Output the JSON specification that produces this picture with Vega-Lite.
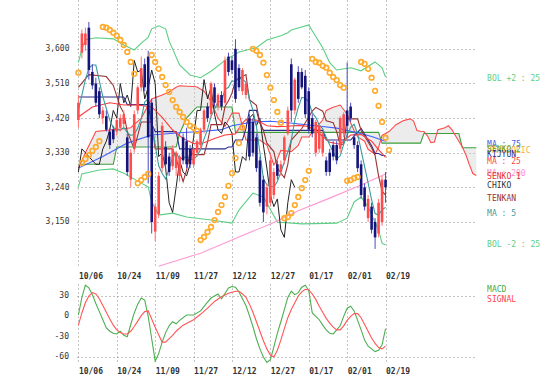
{
"$schema": "https://vega.github.io/schema/vega-lite/v6.json",
"background": "white",
"padding": {"left": 0, "top": 0, "right": 0, "bottom": 0},
"spacing": 1,
"config": {
  "view": {"stroke": null},
  "font": "DejaVu Sans Mono",
  "axis": {"labelFont": "DejaVu Sans Mono", "labelFontSize": 8, "labelColor": "#333333", "domain": false, "ticks": false, "gridColor": "#888888", "gridDash": [1, 3], "gridWidth": 1, "labelOverlap": false, "labelFlush": false, "labelSeparation": 0}
},
"datasets": {
  "candles": [
    {"i":0,"o":3415,"h":3480,"l":3395,"c":3460},{"i":1,"o":3590,"h":3650,"l":3575,"c":3640},{"i":2,"o":3610,"h":3655,"l":3595,"c":3640},{"i":3,"o":3655,"h":3670,"l":3520,"c":3545},{"i":4,"o":3540,"h":3560,"l":3495,"c":3505},{"i":5,"o":3510,"h":3525,"l":3450,"c":3460},{"i":6,"o":3490,"h":3500,"l":3420,"c":3430},{"i":7,"o":3420,"h":3450,"l":3405,"c":3440},{"i":8,"o":3425,"h":3440,"l":3385,"c":3390},{"i":9,"o":3385,"h":3395,"l":3340,"c":3350},
    {"i":10,"o":3390,"h":3400,"l":3355,"c":3365},{"i":11,"o":3385,"h":3420,"l":3375,"c":3415},{"i":12,"o":3395,"h":3430,"l":3385,"c":3420},{"i":13,"o":3405,"h":3440,"l":3395,"c":3430},{"i":14,"o":3370,"h":3380,"l":3270,"c":3280},{"i":15,"o":3260,"h":3340,"l":3240,"c":3330},{"i":16,"o":3340,"h":3440,"l":3330,"c":3430},{"i":17,"o":3440,"h":3505,"l":3430,"c":3500},{"i":18,"o":3500,"h":3580,"l":3490,"c":3550},{"i":19,"o":3560,"h":3575,"l":3490,"c":3500},
    {"i":20,"o":3580,"h":3595,"l":3250,"c":3370},{"i":21,"o":3460,"h":3470,"l":3120,"c":3150},{"i":22,"o":3125,"h":3200,"l":3100,"c":3190},{"i":23,"o":3170,"h":3280,"l":3160,"c":3270},{"i":24,"o":3290,"h":3410,"l":3280,"c":3400},{"i":25,"o":3345,"h":3360,"l":3290,"c":3300},{"i":26,"o":3320,"h":3330,"l":3270,"c":3280},{"i":27,"o":3295,"h":3350,"l":3285,"c":3340},{"i":28,"o":3290,"h":3335,"l":3270,"c":3330},{"i":29,"o":3270,"h":3325,"l":3255,"c":3320},
    {"i":30,"o":3370,"h":3380,"l":3300,"c":3310},{"i":31,"o":3360,"h":3395,"l":3290,"c":3300},{"i":32,"o":3340,"h":3350,"l":3290,"c":3300},{"i":33,"o":3300,"h":3345,"l":3290,"c":3340},{"i":34,"o":3330,"h":3365,"l":3320,"c":3360},{"i":35,"o":3350,"h":3395,"l":3340,"c":3390},{"i":36,"o":3390,"h":3445,"l":3380,"c":3440},{"i":37,"o":3450,"h":3460,"l":3410,"c":3420},{"i":38,"o":3430,"h":3515,"l":3420,"c":3510},{"i":39,"o":3500,"h":3510,"l":3450,"c":3460},
    {"i":40,"o":3450,"h":3485,"l":3440,"c":3480},{"i":41,"o":3480,"h":3490,"l":3440,"c":3450},{"i":42,"o":3460,"h":3580,"l":3455,"c":3570},{"i":43,"o":3580,"h":3590,"l":3530,"c":3540},{"i":44,"o":3570,"h":3580,"l":3535,"c":3545},{"i":45,"o":3600,"h":3625,"l":3460,"c":3470},{"i":46,"o":3550,"h":3560,"l":3490,"c":3500},{"i":47,"o":3490,"h":3550,"l":3480,"c":3545},{"i":48,"o":3480,"h":3515,"l":3470,"c":3510},{"i":49,"o":3420,"h":3430,"l":3310,"c":3320},
    {"i":50,"o":3410,"h":3420,"l":3320,"c":3330},{"i":51,"o":3370,"h":3380,"l":3280,"c":3290},{"i":52,"o":3310,"h":3320,"l":3190,"c":3200},{"i":53,"o":3260,"h":3270,"l":3150,"c":3175},{"i":54,"o":3190,"h":3250,"l":3170,"c":3240},{"i":55,"o":3200,"h":3320,"l":3190,"c":3310},{"i":56,"o":3220,"h":3290,"l":3210,"c":3280},{"i":57,"o":3300,"h":3310,"l":3260,"c":3270},{"i":58,"o":3280,"h":3310,"l":3270,"c":3300},{"i":59,"o":3310,"h":3375,"l":3300,"c":3370},
    {"i":60,"o":3380,"h":3450,"l":3375,"c":3440},{"i":61,"o":3560,"h":3575,"l":3410,"c":3440},{"i":62,"o":3440,"h":3525,"l":3430,"c":3520},{"i":63,"o":3540,"h":3555,"l":3460,"c":3470},{"i":64,"o":3540,"h":3550,"l":3495,"c":3500},{"i":65,"o":3530,"h":3545,"l":3420,"c":3430},{"i":66,"o":3490,"h":3500,"l":3380,"c":3390},{"i":67,"o":3420,"h":3430,"l":3370,"c":3380},{"i":68,"o":3330,"h":3415,"l":3320,"c":3410},{"i":69,"o":3340,"h":3405,"l":3330,"c":3400},
    {"i":70,"o":3330,"h":3385,"l":3320,"c":3380},{"i":71,"o":3310,"h":3320,"l":3270,"c":3280},{"i":72,"o":3330,"h":3340,"l":3270,"c":3280},{"i":73,"o":3350,"h":3360,"l":3310,"c":3320},{"i":74,"o":3350,"h":3360,"l":3300,"c":3310},{"i":75,"o":3340,"h":3425,"l":3330,"c":3420},{"i":76,"o":3380,"h":3435,"l":3370,"c":3430},{"i":77,"o":3440,"h":3565,"l":3370,"c":3400},{"i":78,"o":3450,"h":3460,"l":3410,"c":3420},{"i":79,"o":3370,"h":3380,"l":3340,"c":3350},
    {"i":80,"o":3350,"h":3360,"l":3280,"c":3290},{"i":81,"o":3300,"h":3310,"l":3210,"c":3220},{"i":82,"o":3240,"h":3250,"l":3180,"c":3190},{"i":83,"o":3160,"h":3220,"l":3150,"c":3210},{"i":84,"o":3190,"h":3200,"l":3120,"c":3130},{"i":85,"o":3150,"h":3160,"l":3080,"c":3110},{"i":86,"o":3120,"h":3210,"l":3110,"c":3200},{"i":87,"o":3150,"h":3270,"l":3140,"c":3260},{"i":88,"o":3260,"h":3280,"l":3200,"c":3240}
  ],
  "ichi": [
    {"i":0,"s1":3290,"s2":3300},{"i":2,"s1":3330,"s2":3300},{"i":5,"s1":3385,"s2":3300},{"i":10,"s1":3390,"s2":3300},{"i":11,"s1":3390,"s2":3345},{"i":15,"s1":3395,"s2":3345},{"i":18,"s1":3420,"s2":3345},{"i":21,"s1":3470,"s2":3345},{"i":24,"s1":3480,"s2":3345},{"i":26,"s1":3488,"s2":3345},{"i":28,"s1":3500,"s2":3345},{"i":29,"s1":3504,"s2":3380},{"i":31,"s1":3503,"s2":3420},{"i":33,"s1":3502,"s2":3440},{"i":34,"s1":3501,"s2":3449},{"i":36,"s1":3490,"s2":3449},{"i":38,"s1":3463,"s2":3449},{"i":40,"s1":3420,"s2":3449},{"i":42,"s1":3398,"s2":3449},{"i":44,"s1":3433,"s2":3449},{"i":45,"s1":3433,"s2":3383},{"i":46,"s1":3433,"s2":3383},{"i":48,"s1":3363,"s2":3383},{"i":52,"s1":3363,"s2":3383},{"i":54,"s1":3350,"s2":3383},{"i":56,"s1":3298,"s2":3383},{"i":57,"s1":3313,"s2":3383},{"i":58,"s1":3336,"s2":3383},{"i":61,"s1":3333,"s2":3383},{"i":63,"s1":3349,"s2":3383},{"i":64,"s1":3371,"s2":3383},{"i":66,"s1":3371,"s2":3383},{"i":68,"s1":3395,"s2":3383},{"i":69,"s1":3405,"s2":3383},{"i":70,"s1":3415,"s2":3383},{"i":71,"s1":3440,"s2":3383},{"i":73,"s1":3448,"s2":3383},{"i":75,"s1":3454,"s2":3383},{"i":77,"s1":3430,"s2":3383},{"i":78,"s1":3408,"s2":3383},{"i":79,"s1":3388,"s2":3383},{"i":80,"s1":3371,"s2":3383},{"i":82,"s1":3360,"s2":3383},{"i":83,"s1":3339,"s2":3383},{"i":85,"s1":3326,"s2":3383},{"i":86,"s1":3344,"s2":3383},{"i":87,"s1":3375,"s2":3355},{"i":88,"s1":3380,"s2":3355},{"i":89,"s1":3385,"s2":3355},{"i":91,"s1":3403,"s2":3355},{"i":93,"s1":3413,"s2":3355},{"i":95,"s1":3418,"s2":3355},{"i":96,"s1":3413,"s2":3355},{"i":97,"s1":3388,"s2":3355},{"i":98,"s1":3386,"s2":3355},{"i":99,"s1":3385,"s2":3380},{"i":100,"s1":3374,"s2":3380},{"i":101,"s1":3356,"s2":3380},{"i":102,"s1":3358,"s2":3380},{"i":103,"s1":3390,"s2":3380},{"i":105,"s1":3395,"s2":3380},{"i":106,"s1":3400,"s2":3380},{"i":107,"s1":3390,"s2":3380},{"i":108,"s1":3375,"s2":3380},{"i":109,"s1":3360,"s2":3380},{"i":110,"s1":3345,"s2":3343},{"i":111,"s1":3325,"s2":3343},{"i":112,"s1":3299,"s2":3343},{"i":113,"s1":3276,"s2":3343},{"i":114,"s1":3271,"s2":3343}
  ],
  "bolU": [{"i":0,"v":3564},{"i":1,"v":3600},{"i":2,"v":3624},{"i":5,"v":3629},{"i":10,"v":3626},{"i":13,"v":3610},{"i":16,"v":3597},{"i":18,"v":3615},{"i":20,"v":3630},{"i":21,"v":3652},{"i":23,"v":3660},{"i":25,"v":3652},{"i":26,"v":3620},{"i":29,"v":3558},{"i":32,"v":3532},{"i":35,"v":3525},{"i":38,"v":3542},{"i":42,"v":3570},{"i":46,"v":3592},{"i":51,"v":3603},{"i":54,"v":3623},{"i":58,"v":3634},{"i":60,"v":3642},{"i":61,"v":3649},{"i":66,"v":3662},{"i":67,"v":3647},{"i":70,"v":3603},{"i":72,"v":3564},{"i":74,"v":3545},{"i":78,"v":3551},{"i":81,"v":3543},{"i":85,"v":3566},{"i":87,"v":3551},{"i":88,"v":3527}],
  "bolL": [{"i":0,"v":3241},{"i":1,"v":3275},{"i":6,"v":3285},{"i":10,"v":3288},{"i":13,"v":3277},{"i":18,"v":3251},{"i":20,"v":3241},{"i":21,"v":3202},{"i":23,"v":3168},{"i":27,"v":3173},{"i":31,"v":3163},{"i":38,"v":3155},{"i":44,"v":3147},{"i":46,"v":3181},{"i":50,"v":3225},{"i":53,"v":3215},{"i":57,"v":3150},{"i":64,"v":3145},{"i":74,"v":3147},{"i":77,"v":3160},{"i":79,"v":3202},{"i":81,"v":3215},{"i":83,"v":3189},{"i":86,"v":3129},{"i":87,"v":3095},{"i":88,"v":3090}],
  "ma200": [{"i":23,"v":3035},{"i":35,"v":3069},{"i":46,"v":3111},{"i":55,"v":3145},{"i":63,"v":3179},{"i":72,"v":3212},{"i":81,"v":3246},{"i":88,"v":3275}],
  "ma75": [{"i":0,"v":3290},{"i":7,"v":3320},{"i":14,"v":3355},{"i":21,"v":3376},{"i":29,"v":3382},{"i":35,"v":3385},{"i":41,"v":3390},{"i":44,"v":3400},{"i":50,"v":3410},{"i":55,"v":3412},{"i":60,"v":3408},{"i":66,"v":3402},{"i":70,"v":3398},{"i":74,"v":3394},{"i":80,"v":3382},{"i":84,"v":3372},{"i":88,"v":3360}],
  "ma25": [{"i":0,"v":3423},{"i":4,"v":3449},{"i":9,"v":3460},{"i":13,"v":3454},{"i":17,"v":3454},{"i":21,"v":3449},{"i":24,"v":3422},{"i":27,"v":3389},{"i":30,"v":3367},{"i":33,"v":3354},{"i":36,"v":3356},{"i":39,"v":3367},{"i":42,"v":3376},{"i":45,"v":3379},{"i":46,"v":3393},{"i":47,"v":3407},{"i":48,"v":3416},{"i":51,"v":3415},{"i":54,"v":3400},{"i":57,"v":3398},{"i":60,"v":3399},{"i":63,"v":3401},{"i":66,"v":3398},{"i":69,"v":3380},{"i":72,"v":3357},{"i":75,"v":3352},{"i":78,"v":3376},{"i":81,"v":3377},{"i":84,"v":3360},{"i":86,"v":3338},{"i":88,"v":3318}],
  "ma5": [{"i":0,"v":3440},{"i":1,"v":3480},{"i":2,"v":3520},{"i":3,"v":3550},{"i":4,"v":3558},{"i":5,"v":3558},{"i":6,"v":3516},{"i":7,"v":3476},{"i":8,"v":3445},{"i":9,"v":3414},{"i":10,"v":3395},{"i":11,"v":3392},{"i":12,"v":3388},{"i":13,"v":3396},{"i":14,"v":3382},{"i":15,"v":3375},{"i":16,"v":3378},{"i":17,"v":3394},{"i":18,"v":3418},{"i":19,"v":3462},{"i":20,"v":3470},{"i":21,"v":3412},{"i":22,"v":3350},{"i":23,"v":3296},{"i":24,"v":3276},{"i":25,"v":3262},{"i":26,"v":3288},{"i":27,"v":3318},{"i":28,"v":3330},{"i":29,"v":3314},{"i":30,"v":3316},{"i":31,"v":3320},{"i":32,"v":3312},{"i":33,"v":3314},{"i":34,"v":3322},{"i":35,"v":3338},{"i":36,"v":3366},{"i":37,"v":3390},{"i":38,"v":3424},{"i":39,"v":3444},{"i":40,"v":3462},{"i":41,"v":3464},{"i":42,"v":3494},{"i":43,"v":3500},{"i":44,"v":3517},{"i":45,"v":3515},{"i":46,"v":3525},{"i":47,"v":3520},{"i":48,"v":3514},{"i":49,"v":3469},{"i":50,"v":3441},{"i":51,"v":3399},{"i":52,"v":3330},{"i":53,"v":3263},{"i":54,"v":3247},{"i":55,"v":3243},{"i":56,"v":3241},{"i":57,"v":3255},{"i":58,"v":3280},{"i":59,"v":3306},{"i":60,"v":3332},{"i":61,"v":3364},{"i":62,"v":3414},{"i":63,"v":3448},{"i":64,"v":3474},{"i":65,"v":3472},{"i":66,"v":3462},{"i":67,"v":3434},{"i":68,"v":3422},{"i":69,"v":3402},{"i":70,"v":3392},{"i":71,"v":3370},{"i":72,"v":3350},{"i":73,"v":3332},{"i":74,"v":3314},{"i":75,"v":3322},{"i":76,"v":3352},{"i":77,"v":3376},{"i":78,"v":3396},{"i":79,"v":3404},{"i":80,"v":3378},{"i":81,"v":3336},{"i":82,"v":3294},{"i":83,"v":3252},{"i":84,"v":3208},{"i":85,"v":3172},{"i":86,"v":3168},{"i":87,"v":3182},{"i":88,"v":3188}],
  "tenkan": [{"i":0,"v":3500},{"i":3,"v":3533},{"i":8,"v":3528},{"i":10,"v":3505},{"i":12,"v":3450},{"i":13,"v":3433},{"i":14,"v":3385},{"i":16,"v":3340},{"i":18,"v":3410},{"i":21,"v":3410},{"i":22,"v":3340},{"i":27,"v":3340},{"i":28,"v":3315},{"i":30,"v":3255},{"i":31,"v":3285},{"i":32,"v":3333},{"i":33,"v":3325},{"i":36,"v":3325},{"i":37,"v":3358},{"i":38,"v":3403},{"i":41,"v":3403},{"i":42,"v":3450},{"i":43,"v":3465},{"i":44,"v":3485},{"i":45,"v":3518},{"i":46,"v":3523},{"i":48,"v":3533},{"i":49,"v":3468},{"i":51,"v":3453},{"i":52,"v":3408},{"i":53,"v":3388},{"i":54,"v":3355},{"i":56,"v":3333},{"i":57,"v":3290},{"i":59,"v":3265},{"i":60,"v":3300},{"i":61,"v":3363},{"i":62,"v":3373},{"i":64,"v":3393},{"i":66,"v":3423},{"i":67,"v":3438},{"i":68,"v":3448},{"i":70,"v":3438},{"i":71,"v":3413},{"i":73,"v":3408},{"i":74,"v":3385},{"i":75,"v":3350},{"i":76,"v":3353},{"i":77,"v":3418},{"i":80,"v":3418},{"i":81,"v":3388},{"i":82,"v":3373},{"i":84,"v":3343},{"i":85,"v":3323},{"i":86,"v":3270},{"i":87,"v":3230},{"i":88,"v":3220}],
  "kijun": [{"i":0,"v":3475},{"i":13,"v":3475},{"i":14,"v":3455},{"i":20,"v":3455},{"i":21,"v":3405},{"i":22,"v":3385},{"i":28,"v":3385},{"i":29,"v":3340},{"i":42,"v":3340},{"i":43,"v":3345},{"i":44,"v":3345},{"i":45,"v":3363},{"i":47,"v":3363},{"i":48,"v":3393},{"i":49,"v":3440},{"i":51,"v":3440},{"i":52,"v":3408},{"i":53,"v":3388},{"i":70,"v":3388},{"i":71,"v":3363},{"i":78,"v":3363},{"i":79,"v":3373},{"i":80,"v":3383},{"i":81,"v":3393},{"i":82,"v":3378},{"i":83,"v":3363},{"i":84,"v":3348},{"i":85,"v":3328},{"i":86,"v":3328},{"i":87,"v":3323},{"i":88,"v":3323}],
  "chiko": [{"i":0,"v":3280},{"i":1,"v":3340},{"i":2,"v":3330},{"i":3,"v":3320},{"i":4,"v":3310},{"i":5,"v":3300},{"i":6,"v":3300},{"i":7,"v":3340},{"i":8,"v":3360},{"i":9,"v":3390},{"i":10,"v":3440},{"i":11,"v":3420},{"i":12,"v":3510},{"i":13,"v":3460},{"i":14,"v":3480},{"i":15,"v":3450},{"i":16,"v":3570},{"i":17,"v":3540},{"i":18,"v":3545},{"i":19,"v":3470},{"i":20,"v":3500},{"i":21,"v":3545},{"i":22,"v":3510},{"i":23,"v":3320},{"i":24,"v":3330},{"i":25,"v":3290},{"i":26,"v":3200},{"i":27,"v":3175},{"i":28,"v":3240},{"i":29,"v":3310},{"i":30,"v":3280},{"i":31,"v":3270},{"i":32,"v":3300},{"i":33,"v":3370},{"i":34,"v":3440},{"i":35,"v":3440},{"i":36,"v":3520},{"i":37,"v":3470},{"i":38,"v":3500},{"i":39,"v":3430},{"i":40,"v":3390},{"i":41,"v":3380},{"i":42,"v":3410},{"i":43,"v":3400},{"i":44,"v":3380},{"i":45,"v":3280},{"i":46,"v":3280},{"i":47,"v":3320},{"i":48,"v":3310},{"i":49,"v":3420},{"i":50,"v":3430},{"i":51,"v":3400},{"i":52,"v":3420},{"i":53,"v":3350},{"i":54,"v":3290},{"i":55,"v":3220},{"i":56,"v":3190},{"i":57,"v":3210},{"i":58,"v":3130},{"i":59,"v":3110},{"i":60,"v":3200},{"i":61,"v":3260},{"i":62,"v":3240}],
  "sar": [{"i":0,"v":3538},{"i":1,"v":3303},{"i":2,"v":3314},{"i":3,"v":3324},{"i":4,"v":3335},{"i":5,"v":3345},{"i":6,"v":3360},{"i":7,"v":3657},{"i":8,"v":3655},{"i":9,"v":3649},{"i":10,"v":3642},{"i":11,"v":3634},{"i":12,"v":3623},{"i":13,"v":3610},{"i":14,"v":3592},{"i":15,"v":3566},{"i":16,"v":3535},{"i":17,"v":3251},{"i":18,"v":3259},{"i":19,"v":3267},{"i":20,"v":3275},{"i":21,"v":3584},{"i":22,"v":3566},{"i":23,"v":3548},{"i":24,"v":3527},{"i":25,"v":3506},{"i":26,"v":3488},{"i":27,"v":3467},{"i":28,"v":3449},{"i":29,"v":3436},{"i":30,"v":3423},{"i":31,"v":3410},{"i":32,"v":3400},{"i":33,"v":3395},{"i":34,"v":3387},{"i":35,"v":3103},{"i":36,"v":3111},{"i":37,"v":3124},{"i":38,"v":3137},{"i":39,"v":3155},{"i":40,"v":3176},{"i":41,"v":3194},{"i":42,"v":3215},{"i":43,"v":3244},{"i":44,"v":3277},{"i":45,"v":3316},{"i":46,"v":3355},{"i":47,"v":3395},{"i":50,"v":3600},{"i":51,"v":3595},{"i":52,"v":3584},{"i":53,"v":3564},{"i":54,"v":3532},{"i":55,"v":3499},{"i":56,"v":3467},{"i":57,"v":3436},{"i":58,"v":3408},{"i":59,"v":3160},{"i":60,"v":3163},{"i":61,"v":3173},{"i":62,"v":3194},{"i":63,"v":3215},{"i":64,"v":3238},{"i":65,"v":3259},{"i":66,"v":3283},{"i":67,"v":3574},{"i":68,"v":3566},{"i":69,"v":3564},{"i":70,"v":3556},{"i":71,"v":3551},{"i":72,"v":3538},{"i":73,"v":3527},{"i":74,"v":3519},{"i":75,"v":3506},{"i":76,"v":3499},{"i":77,"v":3257},{"i":78,"v":3259},{"i":79,"v":3264},{"i":80,"v":3267},{"i":81,"v":3566},{"i":82,"v":3561},{"i":83,"v":3548},{"i":84,"v":3525},{"i":85,"v":3491},{"i":86,"v":3452},{"i":87,"v":3410},{"i":88,"v":3369},{"i":89,"v":3337}],
  "labels": [
    {"t":"BOL +2 : 25","v":3522,"col":"#5ccf84"},
    {"t":"MA : 75","v":3350,"col":"#4060e8"},
    {"t":"PARABOLIC","v":3334,"col":"#ffaa33"},
    {"t":"SENKO 2","v":3337,"col":"#66aa33"},
    {"t":"KIJYUN","v":3324,"col":"#2b2b8c"},
    {"t":"MA : 25","v":3306,"col":"#ff4444"},
    {"t":"MA : 200","v":3275,"col":"#ff8ed0"},
    {"t":"SENKO 1","v":3267,"col":"#e83030"},
    {"t":"CHIKO","v":3243,"col":"#333333"},
    {"t":"TENKAN","v":3210,"col":"#993333"},
    {"t":"MA : 5","v":3171,"col":"#449999"},
    {"t":"BOL -2 : 25","v":3090,"col":"#5ccf84"}
  ],
  "macd": [{"i":0,"v":2},{"i":1,"v":28},{"i":2,"v":46},{"i":3,"v":42},{"i":4,"v":32},{"i":5,"v":19},{"i":6,"v":7},{"i":7,"v":-5},{"i":8,"v":-17},{"i":9,"v":-22},{"i":10,"v":-25},{"i":11,"v":-26},{"i":12,"v":-22},{"i":13,"v":-28},{"i":14,"v":-30},{"i":15,"v":-12},{"i":16,"v":5},{"i":17,"v":18},{"i":18,"v":27},{"i":19,"v":24},{"i":20,"v":0},{"i":21,"v":-33},{"i":22,"v":-66},{"i":23,"v":-55},{"i":24,"v":-38},{"i":25,"v":-24},{"i":26,"v":-14},{"i":27,"v":-8},{"i":28,"v":-11},{"i":29,"v":-6},{"i":31,"v":2},{"i":33,"v":2},{"i":35,"v":8},{"i":37,"v":21},{"i":38,"v":27},{"i":40,"v":33},{"i":41,"v":26},{"i":43,"v":42},{"i":44,"v":44},{"i":45,"v":43},{"i":46,"v":36},{"i":47,"v":26},{"i":48,"v":16},{"i":49,"v":1},{"i":50,"v":-15},{"i":51,"v":-33},{"i":52,"v":-48},{"i":53,"v":-60},{"i":54,"v":-68},{"i":55,"v":-64},{"i":56,"v":-45},{"i":57,"v":-25},{"i":58,"v":-8},{"i":59,"v":10},{"i":60,"v":28},{"i":61,"v":37},{"i":62,"v":32},{"i":63,"v":35},{"i":64,"v":43},{"i":65,"v":46},{"i":66,"v":38},{"i":67,"v":5},{"i":68,"v":0},{"i":69,"v":-5},{"i":70,"v":-13},{"i":71,"v":-20},{"i":72,"v":-25},{"i":73,"v":-26},{"i":74,"v":-20},{"i":75,"v":-14},{"i":76,"v":0},{"i":77,"v":12},{"i":78,"v":15},{"i":79,"v":8},{"i":80,"v":-6},{"i":81,"v":-20},{"i":82,"v":-35},{"i":83,"v":-44},{"i":84,"v":-48},{"i":85,"v":-52},{"i":86,"v":-50},{"i":87,"v":-42},{"i":88,"v":-18}],
  "signal": [{"i":0,"v":-13},{"i":1,"v":5},{"i":2,"v":20},{"i":3,"v":30},{"i":4,"v":35},{"i":5,"v":33},{"i":6,"v":26},{"i":7,"v":16},{"i":8,"v":6},{"i":9,"v":-4},{"i":10,"v":-13},{"i":11,"v":-20},{"i":12,"v":-24},{"i":13,"v":-26},{"i":14,"v":-26},{"i":15,"v":-22},{"i":16,"v":-15},{"i":17,"v":-7},{"i":18,"v":1},{"i":19,"v":7},{"i":20,"v":8},{"i":21,"v":-4},{"i":22,"v":-16},{"i":23,"v":-27},{"i":24,"v":-38},{"i":25,"v":-38},{"i":26,"v":-33},{"i":27,"v":-28},{"i":28,"v":-22},{"i":30,"v":-13},{"i":33,"v":-5},{"i":35,"v":3},{"i":37,"v":12},{"i":39,"v":22},{"i":41,"v":29},{"i":43,"v":34},{"i":45,"v":37},{"i":46,"v":37},{"i":47,"v":33},{"i":48,"v":28},{"i":49,"v":18},{"i":50,"v":6},{"i":51,"v":-8},{"i":52,"v":-22},{"i":53,"v":-36},{"i":54,"v":-48},{"i":55,"v":-57},{"i":56,"v":-60},{"i":57,"v":-50},{"i":58,"v":-35},{"i":59,"v":-18},{"i":60,"v":-2},{"i":61,"v":10},{"i":62,"v":20},{"i":63,"v":30},{"i":64,"v":36},{"i":65,"v":40},{"i":66,"v":39},{"i":67,"v":33},{"i":68,"v":25},{"i":69,"v":15},{"i":70,"v":6},{"i":71,"v":-3},{"i":72,"v":-10},{"i":73,"v":-16},{"i":74,"v":-20},{"i":75,"v":-20},{"i":76,"v":-14},{"i":77,"v":-6},{"i":78,"v":0},{"i":79,"v":4},{"i":80,"v":4},{"i":81,"v":-2},{"i":82,"v":-12},{"i":83,"v":-22},{"i":84,"v":-32},{"i":85,"v":-40},{"i":86,"v":-46},{"i":87,"v":-48},{"i":88,"v":-44}],
  "mlabels": [{"t":"MACD","v":39,"col":"#44aa44"},{"t":"SIGNAL","v":24,"col":"#ff4444"}],
  "mticks": [{"v":30,"t":"30"},{"v":0,"t":"0"},{"v":-30,"t":"-30"},{"v":-60,"t":"-60"}]
},
"vconcat": [
  {
    "width": 400, "height": 267,
    "layer": [
      {"data": {"name": "ichi"}, "mark": {"type": "area", "color": "#c8c8c8", "opacity": 0.35},
       "encoding": {
         "x": {"field": "i", "type": "quantitative", "title": null, "scale": {"domain": [-0.4, 114.2], "nice": false, "zero": false},
           "axis": {"values": [0,11,22,33,44,55,66,77,88], "labelExpr": "['10/06','10/24','11/09','11/27','12/12','12/27','01/17','02/01','02/19'][round(datum.value/11)]", "labelAlign": "left", "labelFontWeight": "bold", "labelPadding": 5, "labelOverlap": false, "grid": true, "minExtent": 14, "maxExtent": 14, "title": null}},
         "y": {"field": "s1", "type": "quantitative", "title": null, "scale": {"domain": [3033, 3727], "nice": false, "zero": false},
           "axis": {"values": [3150,3240,3330,3420,3510,3600], "labelExpr": "format(datum.value, ',d')", "labelPadding": 8, "labelOverlap": false, "grid": true, "minExtent": 77, "maxExtent": 77, "title": null}},
         "y2": {"field": "s2"}}},
      {"data": {"name": "ichi"}, "mark": {"type": "line", "color": "#3d9e3d", "strokeWidth": 1.1}, "encoding": {"x": {"field": "i", "type": "quantitative", "scale": {"domain": [-0.4, 114.2], "nice": false, "zero": false}, "title": null}, "y": {"field": "s2", "type": "quantitative", "scale": {"domain": [3033, 3727], "nice": false, "zero": false}, "title": null}}},
      {"data": {"name": "ichi"}, "mark": {"type": "line", "color": "#ff4a4a", "strokeWidth": 1.1}, "encoding": {"x": {"field": "i", "type": "quantitative", "scale": {"domain": [-0.4, 114.2], "nice": false, "zero": false}, "title": null}, "y": {"field": "s1", "type": "quantitative", "scale": {"domain": [3033, 3727], "nice": false, "zero": false}, "title": null}}},
      {"data": {"name": "bolU"}, "mark": {"type": "line", "color": "#5ccf84", "strokeWidth": 1.1}, "encoding": {"x": {"field": "i", "type": "quantitative", "scale": {"domain": [-0.4, 114.2], "nice": false, "zero": false}, "title": null}, "y": {"field": "v", "type": "quantitative", "scale": {"domain": [3033, 3727], "nice": false, "zero": false}, "title": null}}},
      {"data": {"name": "bolL"}, "mark": {"type": "line", "color": "#5ccf84", "strokeWidth": 1.1}, "encoding": {"x": {"field": "i", "type": "quantitative", "scale": {"domain": [-0.4, 114.2], "nice": false, "zero": false}, "title": null}, "y": {"field": "v", "type": "quantitative", "scale": {"domain": [3033, 3727], "nice": false, "zero": false}, "title": null}}},
      {"data": {"name": "ma200"}, "mark": {"type": "line", "color": "#ff99d6", "strokeWidth": 1.1}, "encoding": {"x": {"field": "i", "type": "quantitative", "scale": {"domain": [-0.4, 114.2], "nice": false, "zero": false}, "title": null}, "y": {"field": "v", "type": "quantitative", "scale": {"domain": [3033, 3727], "nice": false, "zero": false}, "title": null}}},
      {"data": {"name": "ma75"}, "mark": {"type": "line", "color": "#4060ff", "strokeWidth": 1.1}, "encoding": {"x": {"field": "i", "type": "quantitative", "scale": {"domain": [-0.4, 114.2], "nice": false, "zero": false}, "title": null}, "y": {"field": "v", "type": "quantitative", "scale": {"domain": [3033, 3727], "nice": false, "zero": false}, "title": null}}},
      {"data": {"name": "chiko"}, "mark": {"type": "line", "color": "#222222", "strokeWidth": 1}, "encoding": {"x": {"field": "i", "type": "quantitative", "scale": {"domain": [-0.4, 114.2], "nice": false, "zero": false}, "title": null}, "y": {"field": "v", "type": "quantitative", "scale": {"domain": [3033, 3727], "nice": false, "zero": false}, "title": null}}},
      {"data": {"name": "kijun"}, "mark": {"type": "line", "color": "#2b2b8c", "strokeWidth": 1.1}, "encoding": {"x": {"field": "i", "type": "quantitative", "scale": {"domain": [-0.4, 114.2], "nice": false, "zero": false}, "title": null}, "y": {"field": "v", "type": "quantitative", "scale": {"domain": [3033, 3727], "nice": false, "zero": false}, "title": null}}},
      {"data": {"name": "tenkan"}, "mark": {"type": "line", "color": "#993333", "strokeWidth": 1.1}, "encoding": {"x": {"field": "i", "type": "quantitative", "scale": {"domain": [-0.4, 114.2], "nice": false, "zero": false}, "title": null}, "y": {"field": "v", "type": "quantitative", "scale": {"domain": [3033, 3727], "nice": false, "zero": false}, "title": null}}},
      {"data": {"name": "ma25"}, "mark": {"type": "line", "color": "#ff3b3b", "strokeWidth": 1.1}, "encoding": {"x": {"field": "i", "type": "quantitative", "scale": {"domain": [-0.4, 114.2], "nice": false, "zero": false}, "title": null}, "y": {"field": "v", "type": "quantitative", "scale": {"domain": [3033, 3727], "nice": false, "zero": false}, "title": null}}},
      {"data": {"name": "ma5"}, "mark": {"type": "line", "color": "#3a9c9c", "strokeWidth": 1.1}, "encoding": {"x": {"field": "i", "type": "quantitative", "scale": {"domain": [-0.4, 114.2], "nice": false, "zero": false}, "title": null}, "y": {"field": "v", "type": "quantitative", "scale": {"domain": [3033, 3727], "nice": false, "zero": false}, "title": null}}},
      {"data": {"name": "candles"}, "mark": {"type": "rule", "strokeWidth": 1},
       "encoding": {"x": {"field": "i", "type": "quantitative", "scale": {"domain": [-0.4, 114.2], "nice": false, "zero": false}, "title": null}, "y": {"field": "l", "type": "quantitative", "scale": {"domain": [3033, 3727], "nice": false, "zero": false}, "title": null}, "y2": {"field": "h"},
         "color": {"condition": {"test": "datum.c >= datum.o", "value": "#ff7070"}, "value": "#4a4ac0"}}},
      {"data": {"name": "candles"}, "mark": {"type": "rule", "strokeWidth": 2.6},
       "encoding": {"x": {"field": "i", "type": "quantitative", "scale": {"domain": [-0.4, 114.2], "nice": false, "zero": false}, "title": null}, "y": {"field": "o", "type": "quantitative", "scale": {"domain": [3033, 3727], "nice": false, "zero": false}, "title": null}, "y2": {"field": "c"},
         "color": {"condition": {"test": "datum.c >= datum.o", "value": "#ff4d4d"}, "value": "#14147a"}}},
      {"data": {"name": "sar"}, "mark": {"type": "point", "shape": "circle", "filled": false, "size": 22, "strokeWidth": 1.6, "color": "#ffaa2a", "opacity": 1},
       "encoding": {"x": {"field": "i", "type": "quantitative", "scale": {"domain": [-0.4, 114.2], "nice": false, "zero": false}, "title": null}, "y": {"field": "v", "type": "quantitative", "scale": {"domain": [3033, 3727], "nice": false, "zero": false}, "title": null}}},
      {"data": {"name": "labels"}, "mark": {"type": "text", "align": "left", "baseline": "middle", "font": "DejaVu Sans Mono", "fontSize": 8},
       "encoding": {"x": {"datum": 117.1, "type": "quantitative", "scale": {"domain": [-0.4, 114.2], "nice": false, "zero": false}}, "y": {"field": "v", "type": "quantitative", "scale": {"domain": [3033, 3727], "nice": false, "zero": false}, "title": null}, "text": {"field": "t"}, "color": {"field": "col", "type": "nominal", "scale": null}}}
    ]
  },
  {
    "width": 400, "height": 80,
    "layer": [
      {"data": {"name": "macd"}, "mark": {"type": "line", "color": "#4caf50", "strokeWidth": 1.1},
       "encoding": {
         "x": {"field": "i", "type": "quantitative", "title": null, "scale": {"domain": [-0.4, 114.2], "nice": false, "zero": false},
           "axis": {"values": [0,11,22,33,44,55,66,77,88], "labelExpr": "['10/06','10/24','11/09','11/27','12/12','12/27','01/17','02/01','02/19'][round(datum.value/11)]", "labelAlign": "left", "labelFontWeight": "bold", "labelPadding": 3, "labelOverlap": false, "grid": true,
             "title": "(C) FISCO", "titleX": -74, "titleY": 17, "titleAlign": "left", "titleBaseline": "middle", "titleFont": "DejaVu Sans Mono", "titleFontSize": 9, "titleFontWeight": "normal", "titleColor": "#333333"}},
         "y": {"field": "v", "type": "quantitative", "title": null, "scale": {"domain": [-70.3, 47.7], "nice": false, "zero": false},
           "axis": {"values": [30, 0, -30, -60], "labels": false, "grid": true, "minExtent": 77, "maxExtent": 77, "title": null}}}},
      {"data": {"name": "signal"}, "mark": {"type": "line", "color": "#ff5555", "strokeWidth": 1.1},
       "encoding": {"x": {"field": "i", "type": "quantitative", "scale": {"domain": [-0.4, 114.2], "nice": false, "zero": false}, "title": null}, "y": {"field": "v", "type": "quantitative", "scale": {"domain": [-70.3, 47.7], "nice": false, "zero": false}, "title": null}}},
      {"data": {"name": "mticks"}, "mark": {"type": "text", "align": "right", "baseline": "middle", "font": "DejaVu Sans Mono", "fontSize": 8, "color": "#333333"},
       "encoding": {"x": {"datum": -2.69, "type": "quantitative", "scale": {"domain": [-0.4, 114.2], "nice": false, "zero": false}}, "y": {"field": "v", "type": "quantitative", "scale": {"domain": [-70.3, 47.7], "nice": false, "zero": false}, "title": null}, "text": {"field": "t"}}},
      {"data": {"name": "mlabels"}, "mark": {"type": "text", "align": "left", "baseline": "middle", "font": "DejaVu Sans Mono", "fontSize": 8},
       "encoding": {"x": {"datum": 117.1, "type": "quantitative", "scale": {"domain": [-0.4, 114.2], "nice": false, "zero": false}}, "y": {"field": "v", "type": "quantitative", "scale": {"domain": [-70.3, 47.7], "nice": false, "zero": false}, "title": null}, "text": {"field": "t"}, "color": {"field": "col", "type": "nominal", "scale": null}}}
    ]
  }
]
}
